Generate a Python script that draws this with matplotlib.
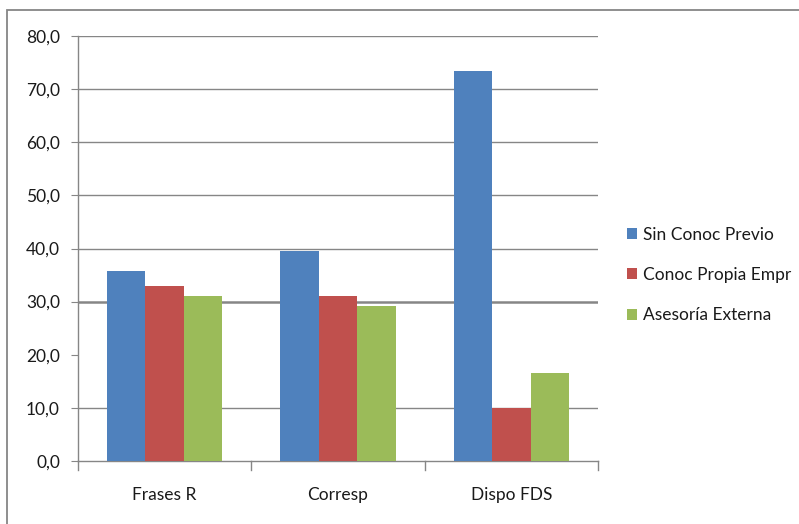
import matplotlib
matplotlib.use("Agg")
import matplotlib.pyplot as plt
from matplotlib.patches import Rectangle
import numpy as np

categories = ["Frases R", "Corresp", "Dispo FDS"]
series_names = ["Sin Conoc Previo", "Conoc Propia Empr", "Asesoría Externa"]
sin_conoc = [35.8, 39.5, 73.4]
conoc_propia = [33.0, 31.1, 10.0]
asesoria = [31.1, 29.2, 16.6]
y_ticks = [0, 10, 20, 30, 40, 50, 60, 70, 80]
y_tick_labels = ["0,0", "10,0", "20,0", "30,0", "40,0", "50,0", "60,0", "70,0", "80,0"]

colors = ["#4F81BD", "#C0504D", "#9BBB59"]
plt.rcParams["font.family"] = ["Lato", "DejaVu Sans"]
FS = 12.5

W, H = 799, 524
fig = plt.figure(figsize=(W / 100, H / 100), dpi=100)

# outer chart frame (runs past the bottom and right edges)
fig.patches.append(Rectangle((7 / W, -0.1), 1.2, (H - 10) / H + 0.1, transform=fig.transFigure,
                             fill=False, edgecolor="#868686", linewidth=1.3))

ax = fig.add_axes([78 / W, (H - 461) / H, (598 - 78) / W, (461 - 36) / H])
x = np.arange(len(categories))
width = 0.222
for i, (vals, name) in enumerate(zip([sin_conoc, conoc_propia, asesoria], series_names)):
    ax.bar(x + (i - 1) * width, vals, width, color=colors[i], label=name, zorder=3)

ax.set_xlim(-0.5, 2.5)
ax.set_ylim(0, 80)

# horizontal gridlines
for t in y_ticks[1:]:
    if t == 20:
        continue
    ax.axhline(t, color="#868686", linewidth=1.8 if t == 30 else 1.0, zorder=1)

ax.set_yticks(y_ticks)
ax.set_yticklabels(y_tick_labels, fontsize=FS, color="#1a1a1a")
ax.set_xticks(x)
ax.set_xticklabels(categories, fontsize=FS, color="#1a1a1a")
ax.tick_params(axis="x", length=0, pad=19)
ax.tick_params(axis="y", length=5, color="#868686", pad=8)

# category boundary tick marks
for b in [-0.5, 0.5, 1.5, 2.5]:
    ax.plot([b, b], [0, -1.6], color="#868686", linewidth=1.0, clip_on=False, zorder=2)

for s in ["top", "right"]:
    ax.spines[s].set_visible(False)
for s in ["left", "bottom"]:
    ax.spines[s].set_color("#868686")
    ax.spines[s].set_linewidth(1.0)

leg = fig.legend(loc="upper left", bbox_to_anchor=(611 / W, (H - 211) / H), frameon=False,
                 fontsize=FS, handlelength=0.6, handleheight=0.6, handletextpad=0.35,
                 labelspacing=1.4)
for t in leg.get_texts():
    t.set_color("#1a1a1a")

fig.savefig("out.png", dpi=100)
